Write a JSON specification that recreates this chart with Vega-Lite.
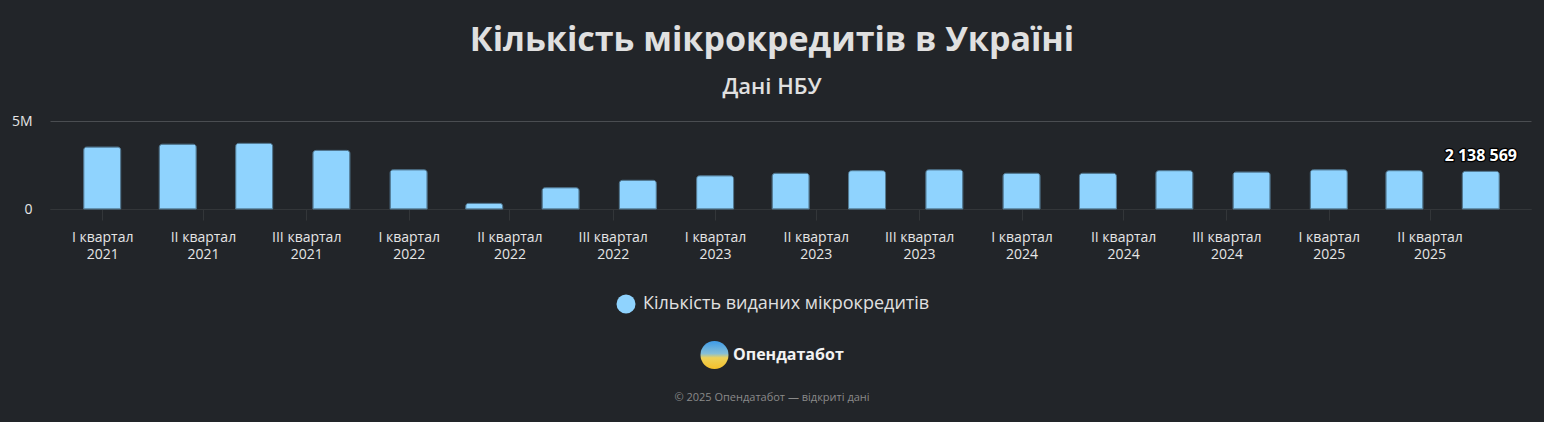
{
  "$schema": "https://vega.github.io/schema/vega-lite/v6.json",
  "background": "#222529",
  "padding": {"left": 0, "right": 13, "top": 24, "bottom": 11},
  "spacing": 10,
  "config": {
    "font": "Open Sans",
    "view": {"stroke": null},
    "locale": {"number": {"decimal": ",", "thousands": "\u00a0", "grouping": [3], "currency": ["", " грн"]}}
  },
  "title": {
    "text": "Кількість мікрокредитів в Україні",
    "subtitle": "Дані НБУ",
    "anchor": "middle",
    "dx": 6.5,
    "font": "Open Sans",
    "fontSize": 34,
    "fontWeight": "bold",
    "color": "#e0e0e0",
    "subtitleFont": "Open Sans",
    "subtitleFontSize": 22,
    "subtitleFontWeight": 600,
    "subtitleColor": "#e0e0e0",
    "subtitlePadding": 19,
    "offset": 16
  },
  "datasets": {
    "quarters": [
      {"quarter": "2021-01-01", "value": 3520000},
      {"quarter": "2021-04-01", "value": 3680000},
      {"quarter": "2021-07-01", "value": 3730000},
      {"quarter": "2021-10-01", "value": 3330000},
      {"quarter": "2022-01-01", "value": 2230000},
      {"quarter": "2022-04-01", "value": 320000},
      {"quarter": "2022-07-01", "value": 1210000},
      {"quarter": "2022-10-01", "value": 1630000},
      {"quarter": "2023-01-01", "value": 1890000},
      {"quarter": "2023-04-01", "value": 2030000},
      {"quarter": "2023-07-01", "value": 2180000},
      {"quarter": "2023-10-01", "value": 2230000},
      {"quarter": "2024-01-01", "value": 2030000},
      {"quarter": "2024-04-01", "value": 2030000},
      {"quarter": "2024-07-01", "value": 2180000},
      {"quarter": "2024-10-01", "value": 2100000},
      {"quarter": "2025-01-01", "value": 2230000},
      {"quarter": "2025-04-01", "value": 2180000},
      {"quarter": "2025-07-01", "value": 2138569}
    ],
    "legend": [{"series": "Кількість виданих мікрокредитів"}],
    "brand": [{"name": "Опендатабот"}],
    "copyright": [{"text": "© 2025 Опендатабот — відкриті дані"}]
  },
  "vconcat": [
    {
      "width": 1481,
      "height": 88,
      "data": {"name": "quarters"},
      "encoding": {
        "x": {
          "field": "quarter",
          "type": "temporal",
          "scale": {
            "type": "utc",
            "nice": false,
            "padding": 0,
            "domain": [
              {"year": 2020, "month": 10, "date": 30, "hours": 20, "utc": true},
              {"year": 2025, "month": 8, "date": 29, "hours": 19, "utc": true}
            ]
          },
          "axis": {
            "title": null,
            "grid": false,
            "tickCount": {"interval": "month", "step": 4},
            "tickSize": 11,
            "tickColor": "#333639",
            "domainColor": "#333639",
            "labelColor": "#e6e6e6",
            "labelFontSize": 14,
            "labelLineHeight": 17,
            "labelPadding": 10,
            "labelFlush": false,
            "labelOverlap": false,
            "labelBaseline": "top",
            "labelExpr": "[['I','II','III','IV'][floor(utcmonth(datum.value)/3)] + ' квартал', '' + utcyear(datum.value)]"
          }
        },
        "y": {
          "field": "value",
          "type": "quantitative",
          "scale": {"domain": [0, 5000000], "nice": false},
          "axis": {
            "title": null,
            "values": [0, 5000000],
            "domain": false,
            "ticks": false,
            "labelPadding": 18,
            "minExtent": 50,
            "labelFontSize": 14,
            "labelColor": "#e6e6e6",
            "gridColor": {"condition": {"test": "datum.value === 0", "value": "#333639"}, "value": "#4a4d51"},
            "labelExpr": "datum.value === 0 ? '0' : (datum.value / 1000000) + 'M'"
          }
        }
      },
      "layer": [
        {
          "mark": {"type": "bar", "width": 37, "stroke": "#557d97", "strokeWidth": 1, "cornerRadiusTopLeft": 3, "cornerRadiusTopRight": 3},
          "encoding": {
            "color": {"datum": "Кількість виданих мікрокредитів", "scale": {"range": ["#8fd3fe"]}, "legend": null}
          }
        },
        {
          "transform": [{"filter": "utcyear(datum.quarter) === 2025 && utcmonth(datum.quarter) === 6"}],
          "mark": {"type": "text", "baseline": "bottom", "dy": -7, "fontSize": 16, "fontWeight": "bold", "fill": "#000000", "stroke": "#000000", "strokeWidth": 2.5, "strokeJoin": "round"},
          "encoding": {"text": {"field": "value", "type": "quantitative", "format": ",d"}}
        },
        {
          "transform": [{"filter": "utcyear(datum.quarter) === 2025 && utcmonth(datum.quarter) === 6"}],
          "mark": {"type": "text", "baseline": "bottom", "dy": -7, "fontSize": 16, "fontWeight": "bold", "fill": "#ffffff"},
          "encoding": {"text": {"field": "value", "type": "quantitative", "format": ",d"}}
        }
      ]
    },
    {
      "width": 1444,
      "height": 140,
      "layer": [
        {
          "data": {"name": "legend"},
          "mark": {"type": "point", "shape": "circle", "filled": true, "size": 361, "opacity": 1, "xOffset": -146, "yOffset": -37},
          "encoding": {"color": {"datum": "Кількість виданих мікрокредитів", "scale": {"range": ["#8fd3fe"]}, "legend": null}}
        },
        {
          "data": {"name": "legend"},
          "mark": {"type": "text", "align": "left", "baseline": "middle", "dx": -129, "dy": -37, "fontSize": 18, "fill": "#e0e0e0"},
          "encoding": {"text": {"field": "series", "type": "nominal"}}
        },
        {
          "data": {"name": "brand"},
          "mark": {
            "type": "point", "shape": "circle", "filled": true, "size": 784, "opacity": 1, "xOffset": -57.5, "yOffset": 14,
            "fill": {"gradient": "linear", "x1": 0, "y1": 0, "x2": 0, "y2": 1, "stops": [
              {"offset": 0, "color": "#3d9be9"},
              {"offset": 0.45, "color": "#86bfd6"},
              {"offset": 0.6, "color": "#ecd25a"},
              {"offset": 1, "color": "#f5bf2a"}
            ]}
          },
          "encoding": {}
        },
        {
          "data": {"name": "brand"},
          "mark": {"type": "text", "align": "left", "baseline": "middle", "dx": -39, "dy": 14, "fontSize": 16, "fontWeight": "bold", "fill": "#f2f2f2"},
          "encoding": {"text": {"field": "name", "type": "nominal"}}
        },
        {
          "data": {"name": "copyright"},
          "mark": {"type": "text", "align": "center", "baseline": "middle", "dy": 57, "fontSize": 11, "fill": "#8a8a8a"},
          "encoding": {"text": {"field": "text", "type": "nominal"}}
        }
      ]
    }
  ]
}
